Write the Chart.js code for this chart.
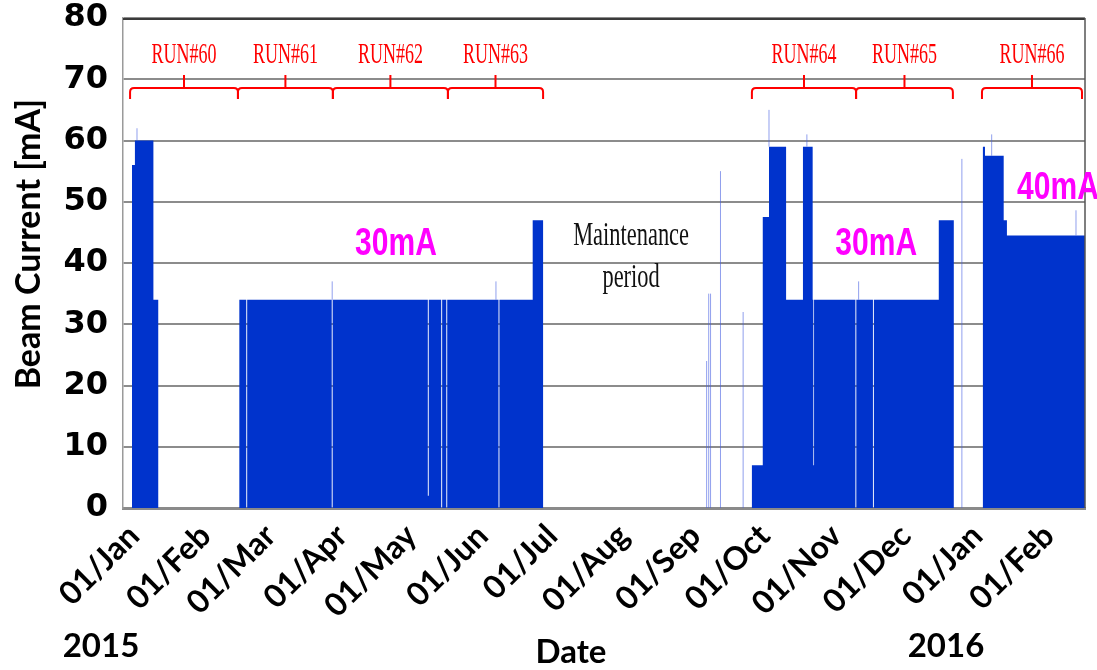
<!DOCTYPE html>
<html>
<head>
<meta charset="utf-8">
<script src="https://cdn.jsdelivr.net/npm/chart.js@4.4.1/dist/chart.umd.min.js"></script>
<style>
  html, body { margin: 0; padding: 0; background: #ffffff; }
  #wrap { width: 1097px; height: 670px; position: relative; }
</style>
</head>
<body>
<div id="wrap"><canvas id="beam" width="1097" height="670"></canvas></div>
<script>
// x values are days counted from 01/Jan/2015
const monthStartDays = [0, 31, 59, 90, 120, 151, 181, 212, 243, 273, 304, 334, 365, 396];
const monthLabels = ['01/Jan', '01/Feb', '01/Mar', '01/Apr', '01/May', '01/Jun', '01/Jul',
                     '01/Aug', '01/Sep', '01/Oct', '01/Nov', '01/Dec', '01/Jan', '01/Feb'];
const yTickValues = [0, 10, 20, 30, 40, 50, 60, 70, 80];

// beam current envelope (day, mA); repeated days give vertical steps
const beamDay = [
  -0.9, -0.9, 0.4, 0.4, 8.4, 8.4, 10.5, 10.5,
  45.6, 45.6, 48.6, 48.6, 49.0, 49.0, 85.6, 85.6, 86.0, 86.0,
  127.2, 127.2, 127.6, 127.6, 133.0, 133.0, 133.4, 133.4, 135.2, 135.2, 135.6, 135.6,
  157.8, 157.8, 158.2, 158.2, 172.6, 172.6, 177.1, 177.1,
  267.5, 267.5, 272.2, 272.2, 274.9, 274.9, 282.3, 282.3, 289.6, 289.6, 293.8, 293.8,
  294.1, 294.1, 294.4, 294.4, 312.3, 312.3, 312.7, 312.7, 319.9, 319.9, 320.3, 320.3,
  348.4, 348.4, 354.9, 354.9,
  367.5, 367.5, 368.4, 368.4, 376.5, 376.5, 377.9, 377.9, 414.0, 414.0
];
const beamMA = [
  0, 56, 56, 60, 60, 34, 34, 0,
  0, 34, 34, 0, 0, 34, 34, 0, 0, 34,
  34, 2, 2, 34, 34, 0, 0, 34, 34, 0, 0, 34,
  34, 0, 0, 34, 34, 47, 47, 0,
  0, 7, 7, 47.5, 47.5, 59, 59, 34, 34, 59, 59, 34,
  34, 7, 7, 34, 34, 0, 0, 34, 34, 0, 0, 34,
  34, 47, 47, 0,
  0, 59, 59, 57.5, 57.5, 47, 47, 44.5, 44.5, 0
];

// short excursions (day, level they rise from, peak mA)
const spikeDay  = [1.3, 85.8, 156.7, 247.9, 248.8, 249.6, 253.9, 263.7, 274.9, 291.3, 313.7, 358.4, 371.3, 407.8];
const spikeBase = [60, 34, 34, 0, 0, 0, 0, 0, 59, 59, 34, 0, 57.5, 44.5];
const spikeTop  = [62, 37, 37, 24, 35, 35, 55, 32, 65, 61, 37, 57, 61, 48.6];

// run periods
const runNames = ['RUN#60', 'RUN#61', 'RUN#62', 'RUN#63', 'RUN#64', 'RUN#65', 'RUN#66'];
const runStart = [-1.7, 45.0, 86.1, 135.9, 267.5, 312.6, 367.1];
const runEnd   = [45.0, 86.1, 135.9, 177.1, 312.6, 354.5, 410.4];

// operating-current notes (text, centre day, baseline mA)
const noteText = ['30mA', '30mA', '40mA'];
const noteDay  = [113.4, 321.3, 400.0];
const noteMA   = [41.3, 41.3, 50.4];

const maintText = ['Maintenance', 'period'];
const maintDay  = 215.2;
const maintMA   = [42.9, 36.1];

const beamPoints = beamDay.map((d, i) => ({ x: d, y: beamMA[i] }));
const spikePoints = [];
spikeDay.forEach((d, i) => {
  spikePoints.push({ x: d, y: spikeBase[i] });
  spikePoints.push({ x: d, y: spikeTop[i] });
  spikePoints.push({ x: d + 0.01, y: null });
});

function condensedText(ctx, text, x, y, font, color, sx) {
  ctx.save();
  ctx.font = font;
  ctx.fillStyle = color;
  ctx.textAlign = 'center';
  ctx.textBaseline = 'alphabetic';
  ctx.translate(x, y);
  ctx.scale(sx, 1);
  ctx.fillText(text, 0, 0);
  ctx.restore();
}

const annotations = {
  id: 'annotations',
  afterDatasetsDraw(chart) {
    const { ctx, chartArea: a, scales: { x, y } } = chart;

    // frame: dark top edge, grey right edge
    ctx.save();
    ctx.strokeStyle = '#3a3a3a';
    ctx.lineWidth = 2;
    ctx.beginPath();
    ctx.moveTo(a.left, a.top + 1);
    ctx.lineTo(a.right, a.top + 1);
    ctx.stroke();
    ctx.strokeStyle = '#555555';
    ctx.lineWidth = 1.5;
    ctx.beginPath();
    ctx.moveTo(a.right, a.top);
    ctx.lineTo(a.right, a.bottom);
    ctx.stroke();
    ctx.restore();

    // run brackets
    const yLine = 88, yLeg = 99, yTop = 75, r = 4;
    ctx.save();
    ctx.strokeStyle = '#ff0000';
    ctx.lineWidth = 2;
    runNames.forEach((name, i) => {
      const x0 = x.getPixelForValue(runStart[i]);
      const x1 = x.getPixelForValue(runEnd[i]);
      const xc = (x0 + x1) / 2;
      ctx.beginPath();
      ctx.moveTo(x0, yLeg);
      ctx.lineTo(x0, yLine + r);
      ctx.quadraticCurveTo(x0, yLine, x0 + r, yLine);
      ctx.lineTo(x1 - r, yLine);
      ctx.quadraticCurveTo(x1, yLine, x1, yLine + r);
      ctx.lineTo(x1, yLeg);
      ctx.moveTo(xc, yLine);
      ctx.lineTo(xc, yTop);
      ctx.stroke();
      condensedText(ctx, name, xc, 63, '30px "Liberation Serif"', '#ff0000', 0.6);
    });
    ctx.restore();

    // current notes
    noteText.forEach((t, i) => {
      condensedText(ctx, t, x.getPixelForValue(noteDay[i]), y.getPixelForValue(noteMA[i]),
        'bold 39px "Liberation Sans"', '#ff00ff', 0.77);
    });

    // maintenance note
    maintText.forEach((t, i) => {
      condensedText(ctx, t, x.getPixelForValue(maintDay), y.getPixelForValue(maintMA[i]),
        '33px "Liberation Serif"', '#111111', 0.68);
    });

    // axis titles and years
    ctx.save();
    ctx.fillStyle = '#000000';
    ctx.font = 'bold 33px Lato';
    ctx.textAlign = 'center';
    ctx.textBaseline = 'alphabetic';
    ctx.fillText('Date', 571, 663);
    ctx.fillText('2015', 101, 657);
    ctx.fillText('2016', 946, 657);
    ctx.font = 'bold 34px Lato';
    ctx.translate(29, 244);
    ctx.rotate(-Math.PI / 2);
    ctx.textBaseline = 'middle';
    ctx.fillText('Beam Current [mA]', 0, 0);
    ctx.restore();
  }
};

new Chart(document.getElementById('beam'), {
  type: 'line',
  data: {
    datasets: [
      {
        data: spikePoints,
        borderColor: 'rgba(70, 95, 225, 0.6)',
        borderWidth: 1,
        pointRadius: 0,
        fill: false,
        spanGaps: false,
        tension: 0,
        order: 1
      },
      {
        data: beamPoints,
        backgroundColor: '#0033cc',
        borderColor: 'rgba(0,0,0,0)',
        borderWidth: 0,
        pointRadius: 0,
        fill: 'origin',
        tension: 0,
        order: 2
      }
    ]
  },
  options: {
    responsive: false,
    animation: false,
    devicePixelRatio: 1,
    layout: { padding: { top: 18, right: 12, left: 0, bottom: 0 } },
    plugins: { legend: { display: false }, tooltip: { enabled: false } },
    scales: {
      x: {
        type: 'linear',
        min: -4.76,
        max: 411.7,
        afterBuildTicks: s => { s.ticks = monthStartDays.map(v => ({ value: v })); },
        afterFit: s => { s.height = 162; s.paddingLeft = 0; s.paddingRight = 0; },
        ticks: {
          autoSkip: false,
          minRotation: 45,
          maxRotation: 45,
          padding: 9,
          color: '#000000',
          font: { family: 'Lato', weight: 'bold', size: 32 },
          callback: (v, i) => monthLabels[i]
        },
        grid: { display: false, drawTicks: false },
        border: { display: true, color: '#8a8a8a', width: 3 }
      },
      y: {
        min: 0,
        max: 80,
        afterBuildTicks: s => { s.ticks = yTickValues.map(v => ({ value: v })); },
        afterFit: s => { s.width = 123; s.paddingTop = 0; s.paddingBottom = 0; },
        ticks: {
          padding: 15,
          color: '#000000',
          font: { family: 'DejaVu Sans', weight: 'bold', size: 32 }
        },
        grid: { color: '#8c8c8c', lineWidth: 2, drawTicks: false },
        border: { display: true, color: '#9a9a9a', width: 1.5 }
      }
    }
  },
  plugins: [annotations]
});
</script>
</body>
</html>
